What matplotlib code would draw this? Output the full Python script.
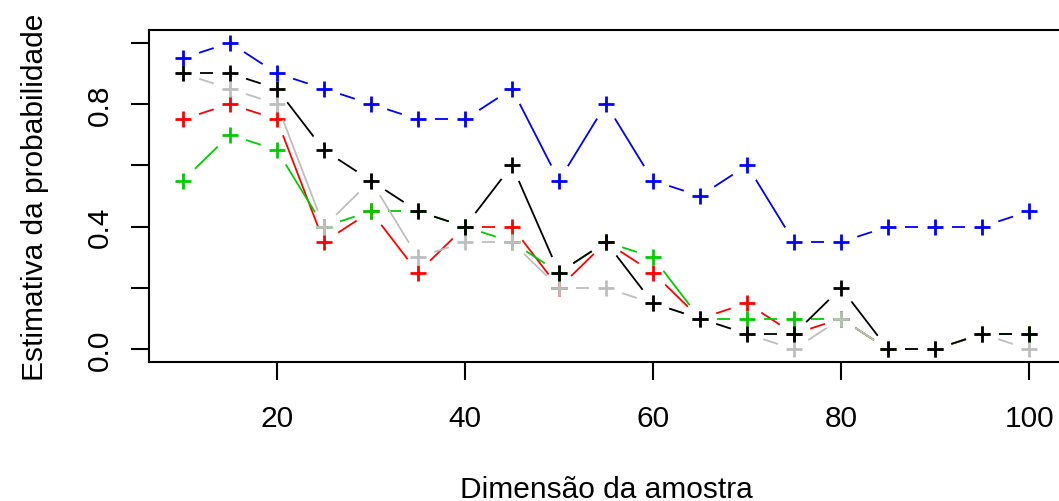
import numpy as np
import matplotlib
matplotlib.use("Agg")
import matplotlib.pyplot as plt

plt.rcParams['font.family'] = ['Liberation Sans', 'DejaVu Sans']

sizes = [10, 15, 20, 25, 30, 35, 40, 45, 50, 55, 60, 65, 70, 75, 80, 85, 90, 95, 100]
est_blue = [0.95, 1.0, 0.9, 0.85, 0.8, 0.75, 0.75, 0.85, 0.55, 0.8, 0.55, 0.5, 0.6, 0.35, 0.35, 0.4, 0.4, 0.4, 0.45]
est_red = [0.75, 0.8, 0.75, 0.35, 0.45, 0.25, 0.4, 0.4, 0.2, 0.35, 0.25, 0.1, 0.15, 0.05, 0.1, 0.0, 0.0, 0.05, 0.05]
est_green = [0.55, 0.7, 0.65, 0.4, 0.45, 0.45, 0.4, 0.35, 0.25, 0.35, 0.3, 0.1, 0.1, 0.1, 0.1, 0.0, 0.0, 0.05, 0.05]
est_gray = [0.9, 0.85, 0.8, 0.4, 0.55, 0.3, 0.35, 0.35, 0.2, 0.2, 0.15, 0.1, 0.05, 0.0, 0.1, 0.0, 0.0, 0.05, 0.0]
est_black = [0.9, 0.9, 0.85, 0.65, 0.55, 0.45, 0.4, 0.6, 0.25, 0.35, 0.15, 0.1, 0.05, 0.05, 0.2, 0.0, 0.0, 0.05, 0.05]

x_ticks = [20, 40, 60, 80, 100]
y_ticks = [0.0, 0.2, 0.4, 0.6, 0.8, 1.0]
y_ticklabels = ["0.0", "", "0.4", "", "0.8", ""]

W, H = 1059, 502
fig = plt.figure(figsize=(W / 100, H / 100), dpi=100)
left, right, top, bottom = 149, 1063, 31, 363
ax = fig.add_axes([left / W, (H - bottom) / H, (right - left) / W, (bottom - top) / H])
ax.set_xlim(6.4, 103.6)
ax.set_ylim(-0.0416, 1.0416)

ax.spines['right'].set_visible(False)
for s in ['left', 'bottom', 'top']:
    ax.spines[s].set_linewidth(1.5)

GAP = 17.0  # pixels

def draw_b(xs, ys, color, z):
    pts = ax.transData.transform(np.column_stack([xs, ys]))
    inv = ax.transData.inverted()
    for i in range(len(pts) - 1):
        p0, p1 = pts[i], pts[i + 1]
        d = np.hypot(*(p1 - p0))
        if d <= 2 * GAP:
            continue
        u = (p1 - p0) / d
        a = inv.transform(p0 + u * GAP)
        b = inv.transform(p1 - u * GAP)
        ax.plot([a[0], b[0]], [a[1], b[1]], color=color, lw=1.3, zorder=z,
                solid_capstyle='butt')
    ax.plot(xs, ys, linestyle='none', marker='+', markersize=11,
            markeredgewidth=2.0, color=color, zorder=z + 0.5)

draw_b(sizes, est_blue, '#0000FF', 2)
draw_b(sizes, est_red, '#FF0000', 3)
draw_b(sizes, est_green, '#00CD00', 4)
draw_b(sizes, est_gray, '#BEBEBE', 5)
draw_b(sizes, est_black, '#000000', 6)

ax.set_xticks(x_ticks)
ax.set_xticklabels([str(v) for v in x_ticks])
ax.set_yticks(y_ticks)
ax.set_yticklabels(y_ticklabels, rotation=90, va='center')
ax.tick_params(axis='both', direction='out', length=13, width=1.5, labelsize=21.5)
ax.tick_params(axis='x', pad=17)
ax.tick_params(axis='y', pad=12)

fig.text(606 / W, 1 - 490 / H, "Dimensão da amostra", fontsize=21.5, ha='center', va='center')
fig.text(35 / W, 1 - 197 / H, "Estimativa da probabilidade", fontsize=21.5, ha='center',
         va='center', rotation=90)

fig.savefig("out.png", dpi=100)
